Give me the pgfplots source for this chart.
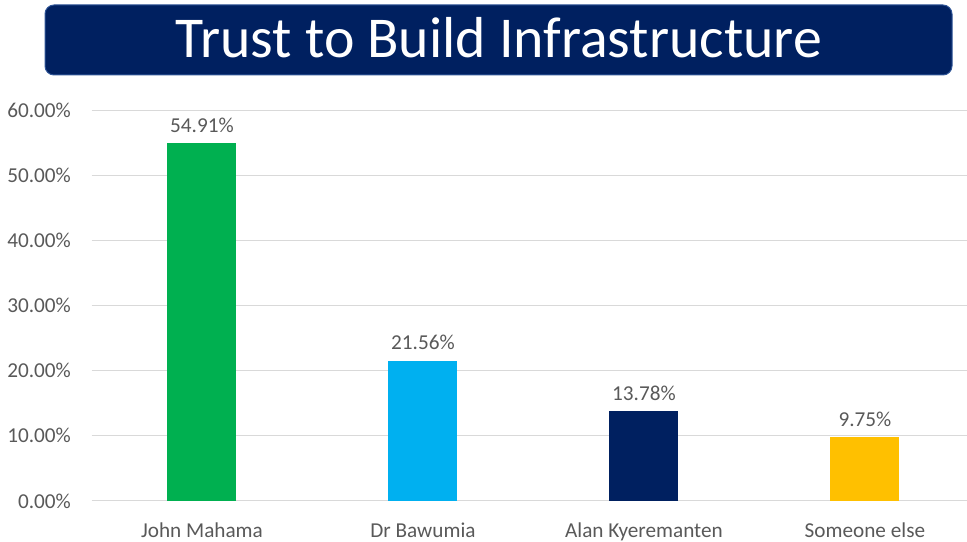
\documentclass[border=0pt]{standalone}
\usepackage{pgfplots}
\pgfplotsset{compat=1.18}
\usepackage{fontspec}
\setmainfont{Carlito}
\definecolor{navy}{HTML}{002060}
\definecolor{borderblue}{HTML}{2F5597}
\definecolor{cgreen}{HTML}{00B050}
\definecolor{cblue}{HTML}{00B0F0}
\definecolor{cgold}{HTML}{FFC000}
\definecolor{gridgray}{HTML}{D9D9D9}
\definecolor{txtgray}{HTML}{595959}
\begin{document}
\begin{tikzpicture}
\path[use as bounding box] (0bp,0bp) rectangle (967bp,542bp);
\draw[fill=navy, draw=borderblue, line width=1bp, rounded corners=9bp] (45bp,467bp) rectangle (952bp,537bp);
\node[white, anchor=base, inner sep=0pt, font=\fontsize{58}{62}\selectfont] at (499bp,484bp) {Trust to Build Infrastructure};
\begin{axis}[
  at={(91.5bp,41bp)}, anchor=south west,
  scale only axis, width=875.5bp, height=391bp,
  xmin=-0.5, xmax=3.462, ymin=0, ymax=60,
  ytick={0,10,20,30,40,50,60},
  xtick={0,1,2,3},
  xticklabels={John Mahama, Dr Bawumia, Alan Kyeremanten, Someone else},
  axis line style={draw=none},
  major tick length=0pt,
  ymajorgrids, grid style={gridgray, line width=1bp},
  /pgf/number format/assume math mode=true,
  yticklabel={\pgfmathprintnumber[fixed,fixed zerofill,precision=2]{\tick}\%},
  ticklabel style={font=\fontsize{21.3}{24}\selectfont, text=txtgray},
  yticklabel style={anchor=east, inner sep=0pt, xshift=-20.5bp},
  xticklabel style={anchor=base, inner sep=0pt, yshift=-36bp},
  ybar, bar width=69bp, bar shift=0pt,
  nodes near coords={\pgfmathprintnumber[fixed,fixed zerofill,precision=2]{\pgfplotspointmeta}\%},
  nodes near coords style={anchor=base, inner sep=0pt, yshift=11bp, font=\fontsize{21.3}{24}\selectfont, text=txtgray, /pgf/number format/assume math mode=true},
  clip=false,
]
\addplot[fill=cgreen, draw=none] coordinates {(0,54.91)};
\addplot[fill=cblue, draw=none] coordinates {(1,21.56)};
\addplot[fill=navy, draw=none] coordinates {(2,13.78)};
\addplot[fill=cgold, draw=none] coordinates {(3,9.75)};
\end{axis}
\end{tikzpicture}
\end{document}
